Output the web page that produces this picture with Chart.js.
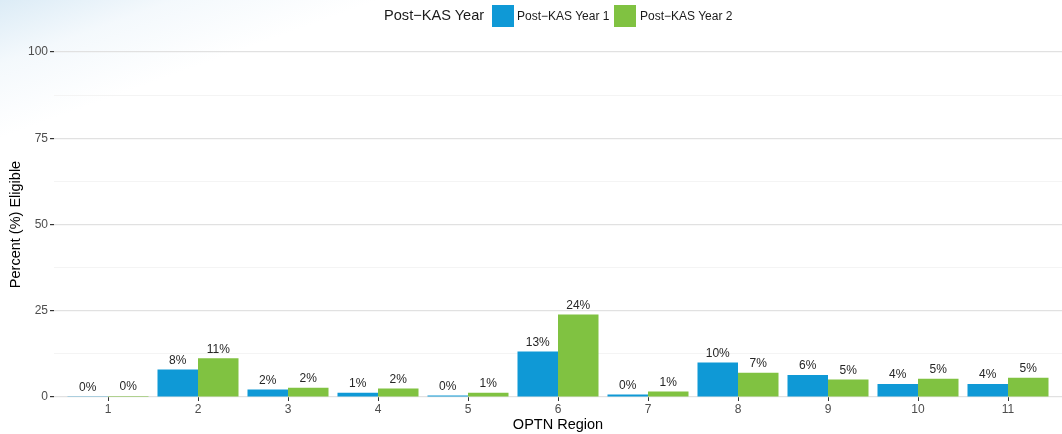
<!DOCTYPE html>
<html>
<head>
<meta charset="utf-8">
<title>Post-KAS Eligibility by OPTN Region</title>
<script src="https://cdn.jsdelivr.net/npm/chart.js@4.4.1/dist/chart.umd.min.js"></script>
<style>
  html, body {
    margin: 0;
    padding: 0;
    width: 1062px;
    height: 434px;
    overflow: hidden;
    font-family: "Liberation Sans", Arial, sans-serif;
  }
  body {
    background:
      linear-gradient(160deg, rgba(208, 229, 243, 0.75) 0px, rgba(230, 241, 249, 0.45) 60px, rgba(255, 255, 255, 0) 130px),
      #fff;
  }
  #wrap { position: relative; width: 1062px; height: 434px; }
  #chart { position: absolute; left: 0; top: 0; }
  .legend { position: absolute; top: 0; left: 0; height: 32px; }
  .legend span { position: absolute; white-space: nowrap; }
  .legend .title { left: 384px; top: 7px; font-size: 14.6px; color: #1a1a1a; }
  .legend .swatch { top: 5px; width: 22px; height: 22px; }
  .legend .item { top: 9px; font-size: 12px; color: #1a1a1a; }
</style>
</head>
<body>
<div id="wrap">
  <canvas id="chart" width="1062" height="434"></canvas>
  <div class="legend" id="legend"></div>
</div>
<script>
// OPTN regions on the x axis
const regions = [1, 2, 3, 4, 5, 6, 7, 8, 9, 10, 11];

// percent eligible
const year1Values = [0.2, 8.0, 2.2, 1.2, 0.4, 13.2, 0.7, 10.0, 6.4, 3.8, 3.8];
const year2Values = [0.3, 11.2, 2.7, 2.5, 1.2, 23.9, 1.6, 7.0, 5.1, 5.3, 5.6];

// labels printed above the bars
const year1Labels = ['0%', '8%', '2%', '1%', '0%', '13%', '0%', '10%', '6%', '4%', '4%'];
const year2Labels = ['0%', '11%', '2%', '2%', '1%', '24%', '1%', '7%', '5%', '5%', '5%'];

const yTicks = [0, 25, 50, 75, 100];

const seriesNames = ['Post\u2212KAS Year 1', 'Post\u2212KAS Year 2'];
const legendTitle = 'Post\u2212KAS Year';
const colors = ['#0f99d6', '#80c241'];

const FONT = '"Liberation Sans", Arial, sans-serif';

// legend drawn as html text
function buildLegend() {
    const legend = document.getElementById('legend');
    const title = document.createElement('span');
    title.className = 'title';
    title.textContent = legendTitle;
    legend.appendChild(title);
    const swatchX = [492, 614];
    const labelX = [517, 640];
    seriesNames.forEach((name, i) => {
        const sw = document.createElement('span');
        sw.className = 'swatch';
        sw.style.left = swatchX[i] + 'px';
        sw.style.background = colors[i];
        legend.appendChild(sw);
        const lb = document.createElement('span');
        lb.className = 'item';
        lb.style.left = labelX[i] + 'px';
        lb.textContent = name;
        legend.appendChild(lb);
    });
}

// percent labels above each bar
const barLabels = {
    id: 'barLabels',
    afterDatasetsDraw(chart) {
        const ctx = chart.ctx;
        const allLabels = [year1Labels, year2Labels];
        ctx.save();
        ctx.font = '12px ' + FONT;
        ctx.fillStyle = '#262626';
        ctx.textAlign = 'center';
        ctx.textBaseline = 'middle';
        chart.data.datasets.forEach((ds, di) => {
            const meta = chart.getDatasetMeta(di);
            meta.data.forEach((bar, i) => {
                ctx.fillText(allLabels[di][i], bar.x, bar.y - 9);
            });
        });
        ctx.restore();
    }
};

function isMajor(v) {
    return yTicks.includes(v);
}

function initializeChart() {
    const ctx = document.getElementById('chart').getContext('2d');
    new Chart(ctx, {
        type: 'bar',
        data: {
            datasets: [
                {
                    label: seriesNames[0],
                    data: regions.map((r, i) => ({ x: r, y: year1Values[i] })),
                    backgroundColor: colors[0],
                    categoryPercentage: 0.9,
                    barPercentage: 1.0
                },
                {
                    label: seriesNames[1],
                    data: regions.map((r, i) => ({ x: r, y: year2Values[i] })),
                    backgroundColor: colors[1],
                    categoryPercentage: 0.9,
                    barPercentage: 1.0
                }
            ]
        },
        options: {
            responsive: false,
            animation: false,
            layout: { padding: { top: 52, left: 0, right: 0, bottom: 0 } },
            plugins: {
                legend: { display: false },
                tooltip: { enabled: false }
            },
            scales: {
                x: {
                    type: 'linear',
                    min: 0.4,
                    max: 11.6,
                    offset: false,
                    afterBuildTicks: scale => {
                        scale.ticks = regions.map(v => ({ value: v }));
                    },
                    afterFit: scale => { scale.height = 37; },
                    border: { display: false },
                    grid: {
                        offset: false,
                        drawOnChartArea: false,
                        drawTicks: true,
                        tickLength: 4,
                        tickColor: '#333333'
                    },
                    ticks: {
                        padding: 1,
                        color: '#4d4d4d',
                        font: { size: 12, family: FONT },
                        maxRotation: 0,
                        callback: v => String(v)
                    },
                    title: {
                        display: true,
                        text: 'OPTN Region',
                        color: '#000000',
                        font: { size: 14.5, family: FONT },
                        padding: { top: 0, bottom: 0 }
                    }
                },
                y: {
                    min: 0,
                    max: 100,
                    afterFit: scale => { scale.width = 54; },
                    border: { display: false },
                    grid: {
                        color: c => isMajor(c.tick.value) ? '#e1e1e1' : '#f4f4f4',
                        lineWidth: c => isMajor(c.tick.value) ? 1.2 : 1,
                        tickLength: 4,
                        tickColor: c => isMajor(c.tick.value) ? '#333333' : 'rgba(0,0,0,0)'
                    },
                    ticks: {
                        stepSize: 12.5,
                        padding: 2,
                        color: '#4d4d4d',
                        font: { size: 12, family: FONT },
                        callback: v => isMajor(v) ? String(v) : ''
                    },
                    title: {
                        display: true,
                        text: 'Percent (%) Eligible',
                        color: '#000000',
                        font: { size: 14.5, family: FONT },
                        padding: { top: 7, bottom: 0 }
                    }
                }
            }
        },
        plugins: [barLabels]
    });
}

document.addEventListener('DOMContentLoaded', function() {
    buildLegend();
    initializeChart();
});
</script>
</body>
</html>
